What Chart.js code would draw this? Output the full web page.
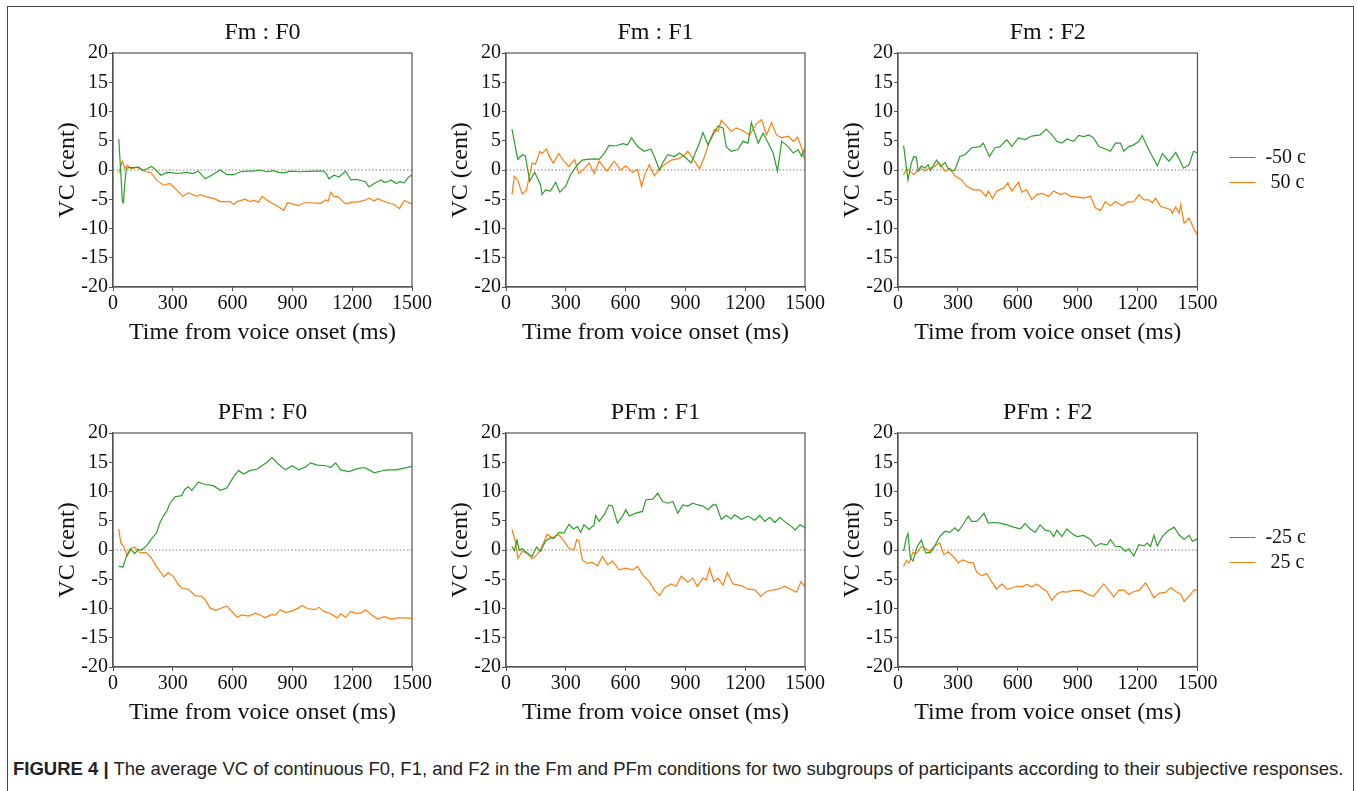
<!DOCTYPE html>
<html>
<head>
<meta charset="utf-8">
<script src="https://cdn.jsdelivr.net/npm/chart.js@4.4.1/dist/chart.umd.min.js"></script>
<style>
  body { margin: 0; background: #fff; width: 1357px; height: 791px; overflow: hidden; position: relative; }
  #frame { position: absolute; left: 7px; top: 6px; width: 1347px; height: 800px; border: 1.5px solid #444; box-sizing: border-box; }
  canvas { position: absolute; }
  #caption { position: absolute; left: 13px; top: 758px; font-family: 'Liberation Sans', Arial, sans-serif; font-size: 18.5px; color: #222; white-space: nowrap; }
</style>
</head>
<body>
<div id="frame"></div>
<canvas id="c0" width="394" height="345" style="left:45px;top:10px"></canvas>
<canvas id="c1" width="394" height="345" style="left:438px;top:10px"></canvas>
<canvas id="c2" width="601" height="345" style="left:730px;top:10px"></canvas>
<canvas id="c3" width="394" height="345" style="left:45px;top:390px"></canvas>
<canvas id="c4" width="394" height="345" style="left:438px;top:390px"></canvas>
<canvas id="c5" width="601" height="345" style="left:730px;top:390px"></canvas>
<div id="caption"><b>FIGURE 4 |</b> The average VC of continuous F0, F1, and F2 in the Fm and PFm conditions for two subgroups of participants according to their subjective responses.</div>

<script>
// panel titles and legend labels
const titles = ['Fm : F0', 'Fm : F1', 'Fm : F2', 'PFm : F0', 'PFm : F1', 'PFm : F2'];
const fmLabels = ['-50 c', ' 50 c'];
const pfmLabels = ['-25 c', ' 25 c'];

// [time (ms), VC (cent)]
const fmF0Neg = [[29,5.3],[40,-1.0],[47,-5.4],[52,-5.6],[60,-2.0],[67,0.3],[80,0.4],[100,0.4],[130,0.5],[150,-0.1],[170,0.2],[193,0.6],[215,0.0],[240,-0.9],[270,-0.4],[300,-0.5],[330,-0.6],[370,-0.4],[400,-0.6],[428,-0.2],[462,-1.5],[500,-0.8],[537,0.0],[571,-0.8],[605,-0.8],[640,-0.3],[670,-0.2],[700,-0.2],[739,0.0],[770,-0.3],[806,-0.1],[830,-0.4],[857,-0.5],[890,-0.2],[940,-0.3],[1000,-0.2],[1058,-0.2],[1070,-0.6],[1083,-1.5],[1109,-0.9],[1134,-1.2],[1167,-0.2],[1193,-1.7],[1220,-1.6],[1243,-1.8],[1265,-2.0],[1285,-2.9],[1310,-2.3],[1344,-1.7],[1360,-2.1],[1378,-2.0],[1395,-1.7],[1420,-2.3],[1440,-2.0],[1461,-2.2],[1480,-1.3],[1500,-0.8]];
const fmF0Pos = [[29,-0.5],[47,1.5],[59,0.3],[72,0.8],[92,0.2],[118,0.5],[140,0.1],[168,-0.3],[193,-0.5],[218,-1.7],[252,-2.6],[286,-2.3],[319,-3.4],[350,-4.5],[378,-3.9],[420,-4.5],[440,-4.2],[470,-4.6],[510,-4.9],[538,-5.4],[588,-5.4],[605,-5.9],[622,-5.4],[664,-5.0],[685,-5.4],[706,-5.2],[730,-5.5],[748,-4.5],[770,-5.1],[790,-5.5],[830,-6.3],[857,-6.9],[875,-5.6],[900,-5.8],[932,-6.1],[960,-5.6],[991,-5.6],[1041,-5.7],[1067,-5.1],[1080,-5.3],[1092,-3.8],[1110,-4.6],[1126,-4.5],[1167,-5.8],[1200,-5.5],[1226,-5.5],[1260,-5.2],[1285,-4.8],[1310,-5.3],[1327,-4.9],[1378,-5.6],[1410,-5.9],[1437,-6.6],[1461,-5.2],[1500,-5.8]];

const fmF1Neg = [[30,7.0],[59,1.8],[81,2.6],[97,2.4],[119,-1.9],[144,-0.4],[173,-2.5],[181,-4.2],[198,-3.4],[223,-3.6],[249,-2.1],[270,-3.8],[299,-2.8],[324,-0.8],[358,0.9],[383,1.7],[408,1.8],[442,1.9],[467,1.8],[492,2.8],[517,4.2],[551,4.1],[585,4.5],[610,4.3],[630,5.5],[660,4.0],[693,3.2],[727,3.6],[744,2.3],[770,0.0],[786,1.2],[811,2.6],[845,2.3],[870,2.9],[895,2.3],[929,1.2],[946,2.6],[971,4.7],[988,6.4],[1013,4.3],[1038,6.0],[1063,7.5],[1089,7.2],[1105,4.0],[1130,3.2],[1164,3.5],[1189,4.9],[1214,4.6],[1231,8.1],[1248,6.3],[1265,4.6],[1290,6.3],[1315,4.6],[1340,2.9],[1362,-0.2],[1383,4.9],[1416,4.0],[1441,2.9],[1466,3.5],[1483,2.3],[1500,3.8]];
const fmF1Pos = [[30,-4.2],[42,-1.1],[59,-1.7],[81,-4.1],[102,-3.5],[119,-0.8],[131,1.2],[148,1.0],[170,3.2],[181,2.8],[203,3.6],[215,2.5],[237,1.2],[265,2.8],[291,1.5],[316,0.6],[344,1.8],[366,-0.6],[391,0.2],[417,1.2],[442,-0.6],[467,1.5],[506,-0.2],[543,1.5],[576,0.0],[601,0.7],[635,-0.4],[660,0.1],[680,-2.8],[697,-0.7],[719,0.9],[744,-1.0],[770,0.2],[795,0.9],[828,1.7],[862,1.9],[887,2.3],[912,3.2],[937,2.0],[971,0.2],[996,2.3],[1021,4.9],[1046,6.9],[1063,6.6],[1080,8.5],[1105,7.6],[1130,6.6],[1155,7.2],[1189,6.7],[1223,6.0],[1256,7.9],[1282,8.6],[1307,6.0],[1332,8.1],[1357,6.0],[1383,5.5],[1416,5.8],[1441,4.9],[1463,5.6],[1483,3.8],[1500,1.5]];

const fmF2Neg = [[28,4.2],[50,-1.7],[67,1.2],[79,2.3],[92,2.2],[101,-0.2],[117,0.7],[134,0.3],[151,0.9],[163,-0.1],[193,1.7],[215,0.6],[235,1.3],[251,0.3],[268,-0.2],[285,0.0],[310,2.3],[335,2.6],[369,3.8],[411,4.0],[427,4.6],[458,2.3],[486,3.8],[511,4.0],[545,5.2],[570,4.0],[603,5.5],[637,5.2],[670,5.8],[712,6.0],[742,7.0],[771,6.0],[796,4.9],[821,4.6],[846,5.3],[880,4.9],[905,5.9],[930,5.7],[955,6.0],[980,5.5],[1006,4.0],[1039,3.6],[1064,3.2],[1089,4.6],[1114,4.6],[1131,3.2],[1156,4.0],[1181,4.3],[1207,4.9],[1223,5.9],[1240,4.6],[1274,2.3],[1299,0.7],[1324,2.8],[1357,1.5],[1391,3.0],[1408,1.9],[1430,0.3],[1458,0.9],[1480,3.2],[1500,2.9]];
const fmF2Pos = [[28,-0.8],[42,0.2],[59,-0.2],[79,-0.8],[109,0.3],[134,-0.1],[159,0.3],[184,0.6],[204,1.3],[235,-0.2],[260,0.3],[285,-1.0],[318,-1.7],[344,-2.8],[377,-3.4],[411,-3.4],[441,-4.5],[452,-3.6],[474,-4.9],[494,-3.6],[528,-3.1],[550,-2.2],[570,-3.6],[603,-2.1],[620,-3.8],[645,-3.4],[670,-5.1],[695,-4.2],[721,-4.0],[754,-4.5],[779,-3.6],[813,-4.2],[838,-3.9],[863,-4.5],[897,-4.6],[930,-4.8],[964,-4.5],[989,-6.5],[1014,-6.9],[1039,-5.4],[1064,-6.1],[1089,-5.4],[1123,-6.1],[1148,-5.5],[1181,-5.4],[1207,-4.2],[1232,-5.1],[1257,-5.1],[1274,-5.6],[1290,-4.8],[1315,-6.2],[1341,-6.5],[1366,-6.8],[1374,-7.4],[1391,-6.3],[1408,-7.4],[1416,-5.9],[1433,-9.1],[1458,-8.2],[1480,-9.9],[1500,-11.2]];

const pfmF0Neg = [[29,-2.8],[50,-2.9],[67,-1.1],[87,0.2],[109,-0.6],[126,0.1],[143,0.0],[168,0.7],[193,1.9],[218,2.9],[235,4.6],[252,5.8],[269,6.6],[286,8.0],[311,9.1],[344,9.3],[361,10.4],[378,10.8],[395,10.2],[428,11.6],[462,11.2],[504,11.0],[538,10.2],[571,10.6],[605,12.5],[630,13.6],[655,13.0],[689,13.6],[722,13.8],[756,14.6],[773,15.0],[798,15.8],[832,14.6],[865,13.7],[899,14.4],[932,13.7],[966,14.2],[991,14.9],[1025,14.5],[1067,14.4],[1092,14.1],[1117,14.9],[1142,13.7],[1184,13.4],[1226,13.9],[1260,14.1],[1285,13.7],[1310,13.2],[1344,13.5],[1378,13.7],[1420,13.7],[1461,14.0],[1500,14.3]];
const pfmF0Pos = [[29,3.6],[39,1.2],[54,0.6],[72,-1.0],[92,0.3],[109,0.5],[134,-0.4],[168,-0.5],[193,-1.4],[218,-2.8],[239,-3.8],[255,-4.6],[277,-3.9],[302,-4.5],[328,-5.9],[344,-6.5],[378,-6.7],[412,-7.8],[445,-7.9],[462,-8.5],[487,-9.9],[512,-10.3],[538,-10.0],[571,-9.6],[605,-10.8],[622,-11.5],[647,-11.1],[681,-11.3],[714,-10.8],[739,-11.1],[764,-11.6],[790,-11.1],[815,-11.1],[840,-10.2],[865,-10.7],[899,-10.4],[932,-9.9],[949,-9.5],[974,-10.0],[1008,-10.2],[1033,-9.8],[1058,-10.5],[1092,-10.9],[1126,-11.6],[1142,-10.9],[1167,-11.5],[1193,-10.5],[1218,-10.8],[1243,-10.8],[1268,-10.2],[1293,-11.0],[1327,-11.8],[1361,-11.4],[1394,-11.8],[1428,-11.6],[1461,-11.6],[1500,-11.7]];

const pfmF1Neg = [[30,0.6],[42,-0.1],[55,1.7],[67,-0.1],[81,0.2],[106,-0.5],[131,-1.1],[153,0.5],[173,-0.2],[198,1.5],[223,2.1],[240,2.0],[265,3.0],[291,2.9],[316,4.4],[338,3.6],[358,4.0],[375,3.0],[391,4.3],[417,3.5],[442,4.3],[450,5.9],[467,4.9],[492,6.0],[517,7.7],[534,7.5],[559,4.6],[585,5.8],[601,6.9],[618,5.8],[652,6.3],[685,6.6],[702,8.6],[736,8.7],[761,9.7],[786,8.3],[811,8.0],[837,8.3],[862,6.3],[887,7.7],[912,7.5],[937,8.0],[963,7.7],[988,7.5],[1013,6.9],[1038,7.7],[1055,7.7],[1080,5.2],[1105,5.9],[1130,5.3],[1147,6.0],[1181,5.2],[1214,5.8],[1248,5.1],[1273,5.9],[1298,4.9],[1324,5.6],[1349,4.7],[1374,5.6],[1407,4.6],[1433,4.0],[1450,3.4],[1475,4.3],[1500,3.8]];
const pfmF1Pos = [[30,3.5],[47,1.5],[60,-1.4],[81,-0.2],[106,-0.6],[131,-1.5],[156,-0.8],[173,0.0],[207,2.7],[232,2.1],[265,2.6],[291,1.5],[316,0.3],[341,0.0],[355,1.8],[366,1.5],[383,-1.7],[408,-2.3],[433,-2.1],[459,-2.7],[484,-1.1],[509,-2.5],[534,-1.9],[568,-3.4],[601,-3.1],[635,-3.4],[660,-2.8],[685,-4.2],[719,-5.4],[744,-6.8],[770,-7.8],[795,-6.5],[828,-5.8],[853,-6.2],[879,-4.5],[912,-5.5],[937,-4.8],[959,-6.2],[988,-4.8],[1005,-5.1],[1021,-3.1],[1043,-5.4],[1063,-4.8],[1089,-6.0],[1110,-3.9],[1139,-5.8],[1164,-6.0],[1189,-6.2],[1214,-6.7],[1248,-6.8],[1278,-7.9],[1307,-7.1],[1341,-6.8],[1366,-6.7],[1399,-6.2],[1433,-6.8],[1458,-7.2],[1480,-5.4],[1500,-6.3]];

const pfmF2Neg = [[28,-0.2],[42,2.1],[50,2.8],[62,-1.4],[75,-1.9],[96,0.6],[117,1.7],[139,-0.5],[163,-0.4],[184,0.7],[209,2.3],[235,3.2],[260,3.0],[285,3.8],[302,3.2],[327,4.4],[352,5.8],[369,4.9],[394,4.9],[411,5.5],[431,6.3],[452,4.6],[478,4.7],[511,4.6],[545,4.3],[578,3.9],[612,3.6],[637,4.5],[662,3.6],[687,3.0],[712,4.3],[737,3.4],[762,3.2],[779,2.3],[796,3.4],[821,2.3],[846,3.6],[871,2.8],[897,2.3],[930,2.5],[964,1.8],[989,0.6],[1014,1.1],[1047,0.9],[1064,1.8],[1089,0.6],[1114,0.6],[1139,-0.2],[1156,0.2],[1181,-1.0],[1207,0.9],[1232,0.7],[1248,1.2],[1265,0.6],[1282,2.5],[1299,0.7],[1324,2.3],[1349,3.2],[1383,3.9],[1408,2.6],[1433,1.8],[1458,2.5],[1475,1.5],[1500,1.9]];
const pfmF2Pos = [[28,-2.8],[42,-1.8],[55,-2.2],[75,-0.4],[92,-0.6],[117,0.6],[139,0.2],[159,-0.2],[184,0.7],[209,1.2],[230,-0.8],[251,-0.3],[277,-1.1],[302,-2.2],[323,-1.7],[352,-2.1],[377,-2.2],[394,-3.8],[419,-4.4],[444,-4.0],[469,-5.4],[494,-6.7],[520,-5.8],[545,-6.7],[570,-6.5],[595,-6.2],[620,-6.3],[645,-5.9],[670,-6.3],[695,-5.8],[721,-6.5],[746,-7.1],[771,-8.6],[796,-7.5],[821,-7.1],[846,-7.2],[880,-6.9],[913,-6.9],[947,-7.5],[980,-7.9],[1006,-6.8],[1031,-5.8],[1056,-6.9],[1081,-8.0],[1106,-6.9],[1131,-6.8],[1156,-7.6],[1181,-7.1],[1207,-6.9],[1240,-5.6],[1265,-7.1],[1282,-8.2],[1307,-7.4],[1341,-7.2],[1366,-6.4],[1391,-7.1],[1416,-7.5],[1433,-8.8],[1458,-7.9],[1483,-6.8],[1500,-6.9]];

const GREEN = '#2ca02c';
const ORANGE = '#ff7f0e';
const AXIS = '#555';
const TEXT = '#111';

Chart.defaults.font.family = "'Liberation Serif', 'Times New Roman', serif";
Chart.defaults.color = TEXT;

// dotted zero line + closed box round the plot area
const framePlugin = {
  id: 'frame',
  beforeDatasetsDraw(chart) {
    const { ctx, chartArea: a, scales } = chart;
    const y0 = scales.y.getPixelForValue(0);
    ctx.save();
    ctx.strokeStyle = '#666';
    ctx.lineWidth = 0.8;
    ctx.setLineDash([1.5, 2]);
    ctx.beginPath();
    ctx.moveTo(a.left, y0);
    ctx.lineTo(a.right, y0);
    ctx.stroke();
    ctx.restore();
  },
  afterDatasetsDraw(chart) {
    const { ctx, chartArea: a } = chart;
    ctx.save();
    ctx.strokeStyle = AXIS;
    ctx.lineWidth = 1.2;
    ctx.strokeRect(a.left, a.top, a.right - a.left, a.bottom - a.top);
    ctx.restore();
  }
};

function toPoints(pairs) {
  return pairs.map(p => ({ x: p[0], y: p[1] }));
}

// right-hand panels get a wider left margin so the legend has room
function makeChart(id, title, neg, pos, labels, withLegend) {
  const ctx = document.getElementById(id).getContext('2d');
  const extra = withLegend ? 100 : 0;
  return new Chart(ctx, {
    type: 'line',
    data: {
      datasets: [
        { label: labels[0], data: toPoints(neg), borderColor: GREEN, backgroundColor: GREEN },
        { label: labels[1], data: toPoints(pos), borderColor: ORANGE, backgroundColor: ORANGE }
      ]
    },
    options: {
      responsive: false,
      animation: false,
      layout: { padding: { right: withLegend ? 15 : 0 } },
      elements: {
        line: { borderWidth: 1.2, tension: 0 },
        point: { radius: 0 }
      },
      plugins: {
        title: {
          display: true, text: title, fullSize: false, color: TEXT,
          font: { size: 24, weight: 'normal' },
          padding: { top: 8.6, bottom: 5.6 }
        },
        legend: {
          display: withLegend, position: 'right', fullSize: false,
          labels: {
            usePointStyle: true, pointStyle: 'line', pointStyleWidth: 26,
            padding: 5, color: TEXT, font: { size: 20 }
          }
        },
        tooltip: { enabled: false }
      },
      scales: {
        x: {
          type: 'linear', min: 0, max: 1500,
          ticks: { stepSize: 300, padding: 1, maxRotation: 0, autoSkip: false, font: { size: 20 }, color: TEXT, callback: v => String(v) },
          grid: { drawOnChartArea: false, tickLength: 4, color: AXIS },
          border: { color: AXIS, width: 1.2 },
          title: { display: true, text: 'Time from voice onset (ms)', color: TEXT, font: { size: 24 }, padding: { top: 0, bottom: 8 } },
          afterFit: s => { s.height = 68; }
        },
        y: {
          min: -20, max: 20,
          ticks: { stepSize: 5, padding: 1, font: { size: 20 }, color: TEXT, callback: v => String(v) },
          grid: { drawOnChartArea: false, tickLength: 4, color: AXIS },
          border: { color: AXIS, width: 1.2 },
          title: { display: true, text: 'VC (cent)', color: TEXT, font: { size: 24 }, padding: { top: 8 + extra, bottom: 0 } },
          afterFit: s => { s.width = 68 + extra; }
        },
        // empty spacer between plot and legend
        yPad: {
          position: 'right', display: withLegend,
          grid: { display: false }, border: { display: false }, ticks: { display: false },
          afterFit: s => { s.width = 27; }
        }
      }
    },
    plugins: [framePlugin]
  });
}

makeChart('c0', titles[0], fmF0Neg, fmF0Pos, fmLabels, false);
makeChart('c1', titles[1], fmF1Neg, fmF1Pos, fmLabels, false);
makeChart('c2', titles[2], fmF2Neg, fmF2Pos, fmLabels, true);
makeChart('c3', titles[3], pfmF0Neg, pfmF0Pos, pfmLabels, false);
makeChart('c4', titles[4], pfmF1Neg, pfmF1Pos, pfmLabels, false);
makeChart('c5', titles[5], pfmF2Neg, pfmF2Pos, pfmLabels, true);
</script>
</body>
</html>
